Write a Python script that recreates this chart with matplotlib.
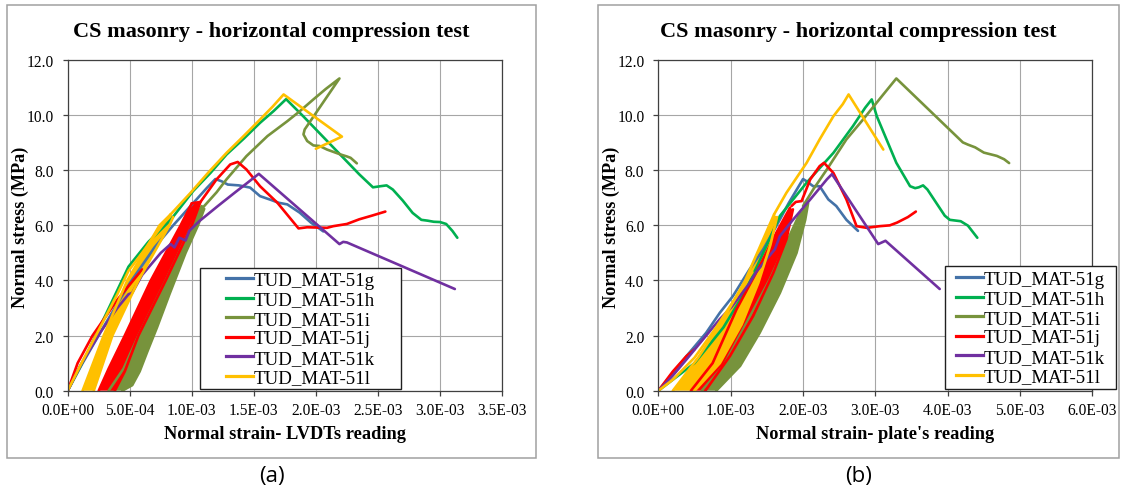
import numpy as np
import matplotlib
matplotlib.use("Agg")
import matplotlib.pyplot as plt
from matplotlib.patches import Rectangle
from matplotlib.lines import Line2D
from matplotlib.font_manager import FontProperties
from matplotlib.ticker import FuncFormatter, MultipleLocator

W, H, DPI = 1122, 489, 100

labels = ["TUD_MAT-51g", "TUD_MAT-51h", "TUD_MAT-51i",
          "TUD_MAT-51j", "TUD_MAT-51k", "TUD_MAT-51l"]
colors = ["#4472A8", "#00B050", "#77933C", "#FF0000", "#7030A0", "#FFC000"]

# ---------------- (a) strain from LVDTs, in 1e-3; stress in MPa ----------------
lv_g_x = [0, 0.12, 0.30, 0.50, 0.70, 0.85, 1.00, 1.12, 1.19, 1.24, 1.29, 1.38, 1.47,
          1.55, 1.64, 1.70, 1.77, 1.87, 1.96, 2.06]
lv_g_y = [0, 1.0, 2.4, 3.9, 5.2, 6.0, 6.75, 7.35, 7.68, 7.60, 7.48, 7.45, 7.37,
          7.06, 6.92, 6.82, 6.76, 6.46, 6.10, 5.78]

lv_h_x = [0, 0.15, 0.30, 0.49, 0.65, 0.83, 1.01, 1.15, 1.28, 1.42, 1.55, 1.66, 1.76,
          1.90, 2.05, 2.20, 2.35, 2.46, 2.52, 2.57, 2.62, 2.70, 2.78, 2.85, 2.90,
          2.95, 3.00, 3.05, 3.10, 3.14]
lv_h_y = [0, 1.3, 2.7, 4.5, 5.4, 6.2, 7.24, 7.9, 8.57, 9.15, 9.72, 10.15, 10.58,
          9.95, 9.25, 8.55, 7.85, 7.38, 7.42, 7.45, 7.30, 6.90, 6.45, 6.20, 6.17,
          6.13, 6.12, 6.05, 5.80, 5.55]

lv_i_lo_x = [0.33, 0.45, 0.57, 0.79, 1.00, 1.08]
lv_i_lo_y = [0, 0.8, 2.0, 4.0, 6.0, 6.7]
lv_i_hi_x = [0.44, 0.52, 0.58, 0.64, 0.72, 0.82, 0.95, 1.05, 1.10]
lv_i_hi_y = [0, 0.2, 0.7, 1.4, 2.3, 3.5, 5.0, 6.0, 6.6]
lv_i_x = [1.08, 1.20, 1.28, 1.44, 1.61, 1.77, 1.87, 1.98, 2.08, 2.19, 1.91, 1.90,
          1.93, 1.98, 2.03, 2.09, 2.20, 2.25, 2.28, 2.33]
lv_i_y = [6.6, 7.2, 7.67, 8.51, 9.24, 9.78, 10.14, 10.57, 10.95, 11.33, 9.48, 9.30,
          9.06, 8.90, 8.88, 8.75, 8.57, 8.50, 8.45, 8.25]

lv_j_lo_x = [0.25, 0.33, 0.46, 0.67, 0.91, 1.00]
lv_j_lo_y = [0, 0.8, 2.0, 4.0, 6.0, 6.8]
lv_j_hi_x = [0.38, 0.46, 0.57, 0.79, 1.00, 1.07]
lv_j_hi_y = [0, 0.7, 2.0, 4.0, 6.0, 6.85]
lv_j_x = [1.00, 1.07, 1.20, 1.31, 1.37, 1.44, 1.55, 1.69, 1.86, 1.93, 2.09, 2.14,
          2.25, 2.35, 2.45, 2.56]
lv_j_y = [6.8, 6.85, 7.67, 8.21, 8.30, 8.03, 7.42, 6.82, 5.89, 5.93, 5.91, 5.97,
          6.05, 6.22, 6.35, 6.50]
lv_j0_x = [0, 0.08, 0.20, 0.40, 0.60]
lv_j0_y = [0, 1.0, 2.0, 3.3, 4.4]

lv_k_x = [0, 0.10, 0.26, 0.40, 0.49, 0.52, 0.60, 0.75, 0.83, 0.86, 0.90, 0.95, 0.98,
          1.06, 1.21, 1.35, 1.45, 1.54, 2.19, 2.22, 2.25, 3.12]
lv_k_y = [0, 0.9, 2.1, 3.0, 3.5, 3.55, 4.2, 5.0, 5.32, 5.20, 5.55, 5.45, 5.80,
          6.15, 6.70, 7.20, 7.55, 7.87, 5.32, 5.40, 5.38, 3.69]

lv_l_lo_x = [0.12, 0.29, 0.48, 0.74, 0.83]
lv_l_lo_y = [0, 2.0, 4.0, 6.0, 6.4]
lv_l_hi_x = [0.21, 0.36, 0.57, 0.82, 0.85]
lv_l_hi_y = [0, 2.0, 4.0, 6.0, 6.3]
lv_l0_x = [0, 0.10, 0.25, 0.40, 0.49, 0.60, 0.72, 0.83]
lv_l0_y = [0, 0.9, 2.2, 3.5, 4.35, 5.0, 5.75, 6.4]
lv_l_x = [0.83, 0.99, 1.14, 1.28, 1.42, 1.55, 1.65, 1.74, 2.21, 2.00]
lv_l_y = [6.4, 7.18, 7.95, 8.63, 9.25, 9.84, 10.30, 10.75, 9.22, 8.78]

# ---------------- (b) strain from plates, in 1e-3; stress in MPa ----------------
pl_g_x = [0, 0.20, 0.39, 0.66, 0.85, 1.03, 1.26, 1.45, 1.63, 1.80, 2.00, 2.05, 2.14,
          2.23, 2.35, 2.46, 2.60, 2.76]
pl_g_y = [0, 0.65, 1.26, 2.10, 2.83, 3.43, 4.40, 5.13, 5.97, 6.80, 7.68, 7.60, 7.42,
          7.42, 6.94, 6.70, 6.20, 5.80]

pl_h_x = [0, 0.50, 0.90, 1.20, 1.45, 1.68, 2.05, 2.42, 2.69, 2.86, 2.95, 3.02, 3.29,
          3.48, 3.55, 3.60, 3.66, 3.72, 3.96, 4.03, 4.18, 4.28, 4.41]
pl_h_y = [0, 1.0, 2.3, 3.6, 5.0, 6.34, 7.55, 8.63, 9.60, 10.27, 10.57, 9.96, 8.27,
          7.42, 7.35, 7.38, 7.45, 7.30, 6.35, 6.20, 6.15, 5.99, 5.55]

pl_i_lo_x = [0.60, 0.90, 1.22, 1.54, 1.77, 1.96]
pl_i_lo_y = [0, 0.9, 2.47, 4.04, 5.37, 6.46]
pl_i_hi_x = [0.80, 1.13, 1.40, 1.68, 1.91, 2.03, 2.07]
pl_i_hi_y = [0, 0.9, 2.10, 3.55, 5.00, 6.20, 6.80]
pl_i_x = [2.00, 2.14, 2.33, 2.60, 2.83, 3.11, 3.29, 4.21, 4.28, 4.38, 4.50, 4.68,
          4.78, 4.85]
pl_i_y = [6.7, 7.3, 8.03, 9.12, 9.84, 10.75, 11.33, 9.01, 8.93, 8.83, 8.64, 8.52,
          8.40, 8.26]

pl_j_lo_x = [0.45, 0.75, 1.08, 1.40, 1.63, 1.82]
pl_j_lo_y = [0, 1.0, 2.95, 4.52, 5.73, 6.64]
pl_j_hi_x = [0.65, 0.99, 1.31, 1.59, 1.77, 1.86]
pl_j_hi_y = [0, 1.26, 2.71, 4.28, 5.49, 6.58]
pl_j_x = [1.84, 1.90, 1.98, 2.10, 2.23, 2.29, 2.42, 2.60, 2.74, 2.88, 3.06, 3.20,
          3.30, 3.45, 3.56]
pl_j_y = [6.7, 6.85, 6.88, 7.67, 8.15, 8.27, 7.90, 6.94, 5.97, 5.91, 5.97, 6.00,
          6.10, 6.30, 6.50]
pl_j0_x = [0, 0.20, 0.39, 0.50]
pl_j0_y = [0, 0.70, 1.26, 1.50]

pl_k_x = [0, 0.20, 0.39, 0.85, 1.01, 1.26, 1.35, 1.61, 1.68, 1.86, 2.10, 2.33, 2.40,
          3.04, 3.14, 3.89]
pl_k_y = [0, 0.55, 1.14, 2.60, 3.03, 3.90, 4.30, 5.13, 5.61, 6.20, 6.94, 7.67, 7.86,
          5.32, 5.44, 3.69]

pl_l_lo_x = [0.20, 0.55, 0.90, 1.20, 1.45, 1.60]
pl_l_lo_y = [0, 1.2, 2.6, 4.0, 5.5, 6.4]
pl_l_hi_x = [0.50, 0.85, 1.15, 1.38, 1.55, 1.64]
pl_l_hi_y = [0, 1.0, 2.4, 3.9, 5.3, 6.3]
pl_l0_x = [0, 0.20, 0.50, 0.80, 1.10, 1.30]
pl_l0_y = [0, 0.40, 1.20, 2.30, 3.50, 4.30]
pl_l_x = [1.60, 1.77, 2.05, 2.23, 2.42, 2.55, 2.63, 3.11]
pl_l_y = [6.4, 7.18, 8.27, 9.12, 9.96, 10.40, 10.75, 8.75]

MILLI = 1e-3
LW = 1.9


def px(x, y):
    """pixel position (from top-left) -> figure fraction"""
    return x / W, 1 - y / H


def curve(ax, x, y, c, lw=LW):
    ax.plot(np.asarray(x) * MILLI, y, color=c, lw=lw, solid_capstyle="round",
            solid_joinstyle="round")


def band(ax, lox, loy, hix, hiy, c):
    """cyclic loading branches: region between outermost reload curves"""
    bx = np.concatenate([lox, hix[::-1]]) * MILLI
    by = np.concatenate([loy, hiy[::-1]])
    ax.fill(bx, by, color=c, lw=0)
    curve(ax, lox, loy, c)
    curve(ax, hix, hiy, c)


sci = FuncFormatter(lambda v, p: "%.1E" % v)
one = FuncFormatter(lambda v, p: "%.1f" % v)

plt.rcParams["font.family"] = "Liberation Serif"
fig = plt.figure(figsize=(W / DPI, H / DPI), dpi=DPI)

ax_a = fig.add_axes([67.7 / W, 1 - 391.7 / H, (502 - 67.7) / W, (391.7 - 61) / H])
ax_b = fig.add_axes([658.4 / W, 1 - 391.7 / H, (1092.3 - 658.4) / W, (391.7 - 61) / H])

# (a)
c = colors
curve(ax_a, lv_g_x, lv_g_y, c[0])
curve(ax_a, lv_h_x, lv_h_y, c[1])
band(ax_a, np.array(lv_i_lo_x), lv_i_lo_y, np.array(lv_i_hi_x), lv_i_hi_y, c[2])
curve(ax_a, lv_i_x, lv_i_y, c[2])
curve(ax_a, lv_j0_x, lv_j0_y, c[3])
band(ax_a, np.array(lv_j_lo_x), lv_j_lo_y, np.array(lv_j_hi_x), lv_j_hi_y, c[3])
curve(ax_a, lv_j_x, lv_j_y, c[3])
curve(ax_a, lv_k_x, lv_k_y, c[4])
curve(ax_a, lv_l0_x, lv_l0_y, c[5])
band(ax_a, np.array(lv_l_lo_x), lv_l_lo_y, np.array(lv_l_hi_x), lv_l_hi_y, c[5])
curve(ax_a, lv_l_x, lv_l_y, c[5])

# (b)
curve(ax_b, pl_g_x, pl_g_y, c[0])
curve(ax_b, pl_h_x, pl_h_y, c[1])
band(ax_b, np.array(pl_i_lo_x), pl_i_lo_y, np.array(pl_i_hi_x), pl_i_hi_y, c[2])
curve(ax_b, pl_i_x, pl_i_y, c[2])
curve(ax_b, pl_j0_x, pl_j0_y, c[3])
band(ax_b, np.array(pl_j_lo_x), pl_j_lo_y, np.array(pl_j_hi_x), pl_j_hi_y, c[3])
curve(ax_b, pl_j_x, pl_j_y, c[3])
curve(ax_b, pl_k_x, pl_k_y, c[4])
curve(ax_b, pl_l0_x, pl_l0_y, c[5])
band(ax_b, np.array(pl_l_lo_x), pl_l_lo_y, np.array(pl_l_hi_x), pl_l_hi_y, c[5])
curve(ax_b, pl_l_x, pl_l_y, c[5])

for ax, xmax, xstep in [(ax_a, 3.5e-3, 0.5e-3), (ax_b, 6e-3, 1e-3)]:
    ax.set_xlim(0, xmax)
    ax.set_ylim(0, 12)
    ax.xaxis.set_major_locator(MultipleLocator(xstep))
    ax.yaxis.set_major_locator(MultipleLocator(2))
    ax.xaxis.set_major_formatter(sci)
    ax.yaxis.set_major_formatter(one)
    ax.grid(True, color="#a6a6a6", lw=0.8)
    ax.set_axisbelow(True)
    for s in ax.spines.values():
        s.set_color("#404040")
        s.set_linewidth(0.9)
    ax.tick_params(direction="out", length=3.6, width=0.9, color="#404040",
                   labelsize=11.2, top=False, right=False)
    ax.tick_params(axis="x", pad=4.5)
    ax.tick_params(axis="y", pad=6.5)

# outer frames, titles, axis labels, panel letters
for (x0, x1, cx, axcx, tag, xl) in [
        (7, 536, 271.5, 284.9, "(a)", "Normal strain- LVDTs reading"),
        (598, 1119, 858.5, 875.3, "(b)", "Normal strain- plate's reading")]:
    fig.patches.append(Rectangle(px(x0, 459), (x1 - x0) / W, (459 - 6) / H,
                                 transform=fig.transFigure, fill=False,
                                 ec="#a0a0a0", lw=1.1, zorder=0))
    fig.text(*px(cx, 32), "CS masonry - horizontal compression test",
             ha="center", va="center", fontsize=16, fontweight="bold")
    fig.text(*px(axcx, 435), xl, ha="center", va="center", fontsize=13.2,
             fontweight="bold")
    fig.text(*px(axcx - 264.3, 227), "Normal stress (MPa)", ha="center",
             va="center", rotation=90, fontsize=13.1, fontweight="bold")
    fig.text(*px(cx, 477), tag, ha="center", va="center", fontsize=16,
             family="Open Sans")

legend_font = FontProperties(family="Liberation Serif", size=13.6)
handles = [Line2D([], [], color=col, lw=2.3) for col in colors]
for (bx0, by0, bx1, by1) in [(200, 269, 401, 390), (945, 267, 1116, 390)]:
    fig.patches.append(Rectangle(px(bx0, by1), (bx1 - bx0) / W, (by1 - by0) / H,
                                 transform=fig.transFigure, fc="white",
                                 ec="#202020", lw=1.0, zorder=4))
    fig.legend(handles, labels, loc="center",
               bbox_to_anchor=px((bx0 + bx1) / 2, (by0 + by1) / 2 + 0.5),
               frameon=False, prop=legend_font, handlelength=1.42,
               handletextpad=0.08, labelspacing=0.12, borderpad=0,
               borderaxespad=0)

fig.savefig("out.png", dpi=DPI)
